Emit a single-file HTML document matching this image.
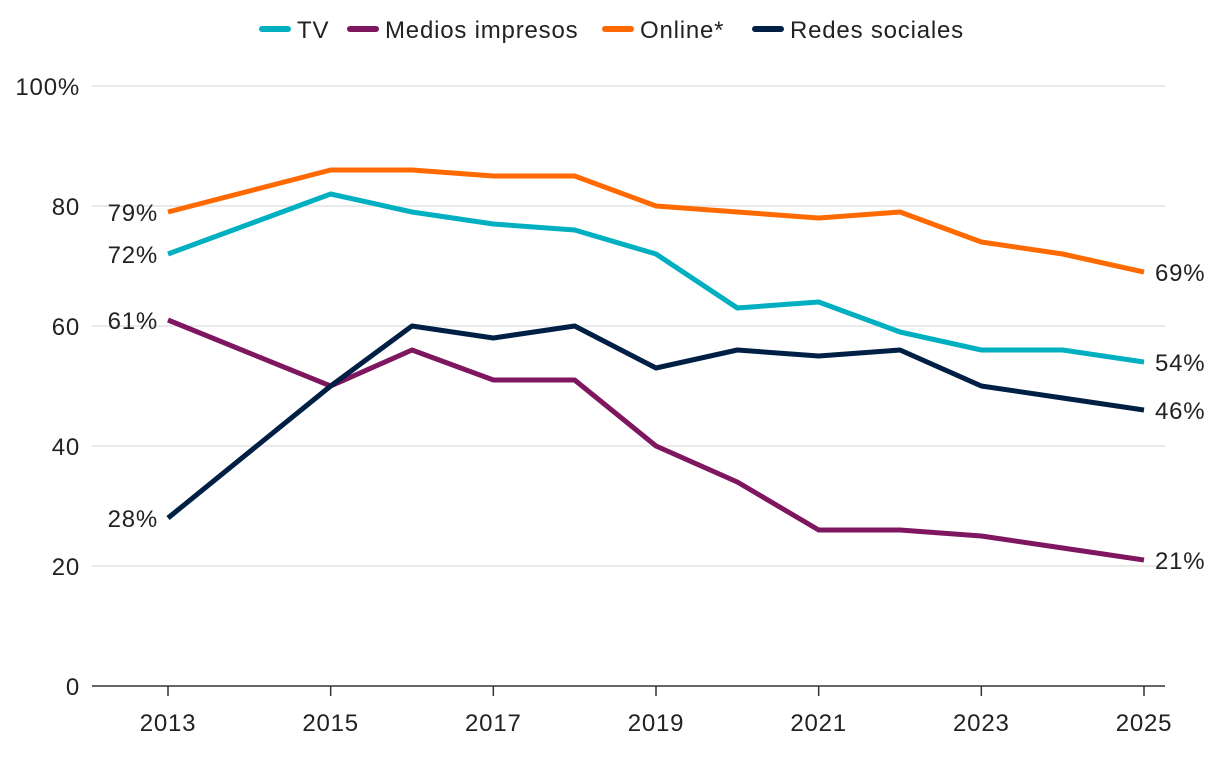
<!DOCTYPE html>
<html><head><meta charset="utf-8"><style>
html,body{margin:0;padding:0;background:#fff;}
svg text{font-family:"Liberation Sans",sans-serif;fill:#222;letter-spacing:0.8px;}
</style></head><body>
<svg id="chart" width="1220" height="752"></svg>
<script>
const years=[2013,2015,2016,2017,2018,2019,2020,2021,2022,2023,2024,2025];
const tv=[72,82,79,77,76,72,63,64,59,56,56,54];
const print=[61,50,56,51,51,40,34,26,26,25,23,21];
const online=[79,86,86,85,85,80,79,78,79,74,72,69];
const social=[28,50,60,58,60,53,56,55,56,50,48,46];
const yTicks=[0,20,40,60,80,100];
const xTicks=[2013,2015,2017,2019,2021,2023,2025];
const seriesNames=["TV","Medios impresos","Online*","Redes sociales"];
const colors=["#00b0c0","#7f1660","#ff6a00","#001f44"];

const svg=document.getElementById('chart');
const NS='http://www.w3.org/2000/svg';
const x=v=>168+(v-2013)*(1144-168)/12;
const y=v=>686-v*6;
function mk(tag,attrs,parent){const e=document.createElementNS(NS,tag);for(const k in attrs)e.setAttribute(k,attrs[k]);(parent||svg).appendChild(e);return e;}

yTicks.forEach(t=>{
  if(t>0){const g=mk('line',{x1:92,x2:1165,y1:y(t),y2:y(t),stroke:'#e3e3e3','stroke-width':1.5});
  
  }
  const l=mk('text',{x:80,y:y(t)+9,'text-anchor':'end','font-size':24});
  l.textContent=t===100?'100%':String(t);
  
  
});
const ax=mk('line',{x1:92,x2:1165,y1:686,y2:686,stroke:'#333','stroke-width':1.5});


xTicks.forEach(t=>{
  const tk=mk('line',{x1:x(t),x2:x(t),y1:686,y2:696,stroke:'#333','stroke-width':1.5});
  
  
  const l=mk('text',{x:x(t),y:731,'text-anchor':'middle','font-size':24});
  l.textContent=t;
  
  
});

const data=[tv,print,online,social];
const keys=['tv','print','online','social'];
data.forEach((s,i)=>{
  const p=mk('polyline',{points:s.map((v,j)=>x(years[j])+','+y(v)).join(' '),fill:'none',stroke:colors[i],'stroke-width':5,'stroke-linejoin':'round'});
  
  
  const l=mk('text',{x:158,y:y(s[0])+9,'text-anchor':'end','font-size':24});
  l.textContent=s[0]+'%';
  
  
  const r=mk('text',{x:1155,y:y(s[s.length-1])+9,'font-size':24});
  r.textContent=s[s.length-1]+'%';
  
  
});

const legX=[262,350,605,755];
seriesNames.forEach((n,i)=>{
  const g=mk('g',{});
  
  
  mk('line',{x1:legX[i],x2:legX[i]+26,y1:29,y2:29,stroke:colors[i],'stroke-width':6,'stroke-linecap':'round'},g);
  const t=mk('text',{x:legX[i]+35,y:38,'font-size':24},g);
  t.textContent=n;
});
</script>
</body></html>
